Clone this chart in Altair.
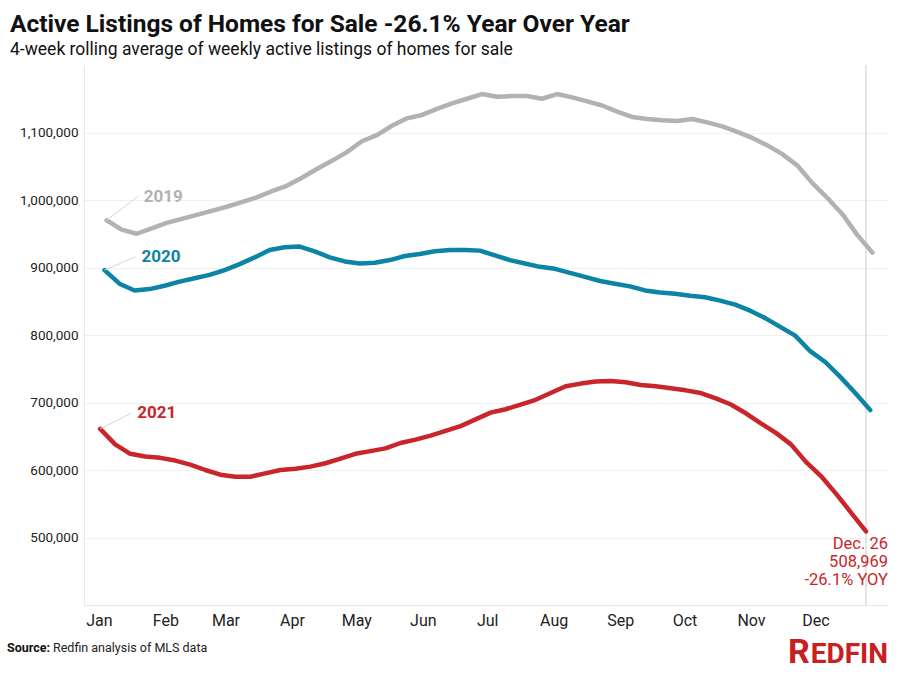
import altair as alt
import pandas as pd

# ---------------- data ----------------
YEARS = ["2019", "2020", "2021"]
# month-day of each year's first weekly observation, placed on a 2021 calendar
FIRST_WEEK = ["2021-01-06", "2021-01-05", "2021-01-03"]

V2019 = [970000, 956000, 950000, 958000, 966000, 972000, 978000, 984000, 990000, 997000,
         1004000, 1013000, 1021000, 1033000, 1046000, 1058000, 1071000, 1087000, 1096000, 1110000,
         1121000, 1126000, 1135000, 1143000, 1150000, 1157000, 1153000, 1154000, 1154000, 1150000,
         1157000, 1152000, 1146000, 1140000, 1131000, 1123000, 1120000, 1118000, 1117000, 1120000,
         1115000, 1109000, 1101000, 1092000, 1081000, 1068000, 1051000, 1025000, 1003000, 979000,
         948000, 922000]

V2020 = [896000, 876000, 866000, 868000, 873000, 879000, 884000, 889000, 896000, 905000,
         915000, 926000, 930000, 931000, 924000, 915000, 909000, 906000, 907000, 911000,
         917000, 920000, 924000, 926000, 926000, 925000, 918000, 911000, 906000, 901000,
         898000, 892000, 886000, 880000, 876000, 872000, 866000, 863000, 861000, 858000,
         856000, 851000, 845000, 836000, 825000, 812000, 799000, 776000, 760000, 738000,
         714000, 688700]

V2021 = [661000, 638000, 624000, 620000, 618000, 614000, 608000, 600000, 593000, 590000,
         590000, 595000, 600000, 602000, 605000, 610000, 617000, 624000, 628000, 632000,
         640000, 645000, 651000, 658000, 665000, 675000, 685000, 690000, 697000, 704000,
         714000, 724000, 728000, 731000, 732000, 730000, 726000, 724000, 721000, 718000,
         714000, 706000, 697000, 684000, 669000, 655000, 638000, 612000, 591000, 565000,
         537000, 508969]

SERIES = [V2019, V2020, V2021]
COLORS = ["#b2b2b2", "#0b84a5", "#c9252b"]
LABEL_RISE = [35000, 20000, 23000]   # how far above the first point each year label sits
LABEL_DAYS = 14.5                     # how far right of the first point each year label sits

MONTHS = list(range(1, 13))
Y_TICKS = [500000, 600000, 700000, 800000, 900000, 1000000, 1100000]
END_LABEL = ["Dec. 26", "508,969", "-26.1% YOY"]

TITLE = "Active Listings of Homes for Sale -26.1% Year Over Year"
SUBTITLE = "4-week rolling average of weekly active listings of homes for sale"
FONT = "Roboto"
RED = "#c9252b"

# ---------------- tables ----------------
rows = []
for yr, start, vals in zip(YEARS, FIRST_WEEK, SERIES):
    dates = pd.date_range(start=start, periods=len(vals), freq="7D")
    for d, v in zip(dates, vals):
        rows.append({"year": yr, "date": d, "value": v})
df = pd.DataFrame(rows)

lab_rows = []
for yr, start, vals, rise in zip(YEARS, FIRST_WEEK, SERIES, LABEL_RISE):
    d0 = pd.Timestamp(start)
    lab_rows.append({"year": yr, "date": d0, "value": vals[0],
                     "date2": d0 + pd.Timedelta(days=LABEL_DAYS), "value2": vals[0] + rise})
labels = pd.DataFrame(lab_rows)

last = pd.DataFrame([{"date": pd.date_range(start=FIRST_WEEK[2], periods=len(V2021), freq="7D")[-1],
                      "value": V2021[-1], "text": END_LABEL}])

# ---------------- scales ----------------
x_scale = alt.Scale(domain=[alt.DateTime(year=2020, month=12, date=26, hours=11),
                            alt.DateTime(year=2022, month=1, date=5, hours=6)])
y_scale = alt.Scale(domain=[400000, 1200000], nice=False, zero=False)
color_scale = alt.Scale(domain=YEARS, range=COLORS)

x_axis = alt.Axis(values=[alt.DateTime(year=2021, month=m, date=1) for m in MONTHS],
                  format="%b", title=None, ticks=False, grid=False, labelFont=FONT,
                  labelFontSize=16, labelColor="#222", labelPadding=7, labelOffset=3,
                  domainColor="#e8e8e8", domainWidth=1)
y_axis = alt.Axis(values=Y_TICKS, format=",d", title=None, ticks=False, grid=True,
                  gridColor="#f0f0f0", gridWidth=1, labelFont=FONT, labelFontSize=13.5,
                  labelColor="#222", labelPadding=6, domainColor="#e8e8e8", domainWidth=1)

base = alt.Chart(df)

rule = alt.Chart(last).mark_rule(color="#dcdcdc", strokeWidth=1.5).encode(
    x=alt.X("date:T", scale=x_scale, axis=x_axis)
)

lines = base.mark_line(strokeWidth=4.5, strokeCap="round", strokeJoin="round").encode(
    x=alt.X("date:T", scale=x_scale, axis=x_axis),
    y=alt.Y("value:Q", scale=y_scale, axis=y_axis),
    color=alt.Color("year:N", scale=color_scale, legend=None),
    detail="year:N",
)

leaders = alt.Chart(labels).mark_rule(color="#d6d6d6", strokeWidth=1).encode(
    x="date:T", x2="date2:T", y="value:Q", y2="value2:Q"
)

year_text = alt.Chart(labels).mark_text(align="left", baseline="middle", dx=6, font=FONT,
                                        fontSize=17, fontWeight="bold").encode(
    x="date2:T", y="value2:Q", text="year:N",
    color=alt.Color("year:N", scale=color_scale, legend=None),
)

end_text = alt.Chart(last).mark_text(align="right", baseline="top", dx=22, dy=5, font=FONT,
                                     fontSize=16.5, lineHeight=18, color=RED).encode(
    x="date:T", y="value:Q", text="text"
)

src_bold = alt.Chart(last).mark_text(align="left", baseline="middle", font=FONT, fontSize=12.5,
                                     fontWeight="bold", color="#111").encode(
    x=alt.value(-77), y=alt.value(583), text=alt.value("Source:")
)
src_rest = alt.Chart(last).mark_text(align="left", baseline="middle", font=FONT, fontSize=12.5,
                                     color="#222").encode(
    x=alt.value(-31), y=alt.value(583), text=alt.value("Redfin analysis of MLS data")
)
logo_r = alt.Chart(last).mark_text(align="left", baseline="alphabetic", font=FONT, fontSize=34,
                                   fontWeight="bold", color="#c82021").encode(
    x=alt.value(704), y=alt.value(598), text=alt.value("R")
)
logo_rest = alt.Chart(last).mark_text(align="right", baseline="alphabetic", font=FONT, fontSize=28,
                                      fontWeight="bold", color="#c82021").encode(
    x=alt.value(804), y=alt.value(598), text=alt.value("EDFIN")
)

chart = alt.layer(rule, lines, leaders, year_text, end_text, src_bold, src_rest, logo_r, logo_rest).properties(
    width=804, height=540,
    background="white",
    title=alt.TitleParams(text=TITLE, subtitle=SUBTITLE, anchor="start", frame="group", dx=-74,
                          font=FONT, fontSize=24.5, fontWeight="bold", color="#111",
                          subtitleFont=FONT, subtitleFontSize=17.5, subtitleColor="#111",
                          subtitlePadding=3, offset=5),
    autosize=alt.AutoSizeParams(type="none"),
    padding={"left": 84, "top": 65, "right": 14, "bottom": 75},
).configure_view(stroke=None)

chart.save("out.html", embed_options={"renderer": "svg", "actions": False})
